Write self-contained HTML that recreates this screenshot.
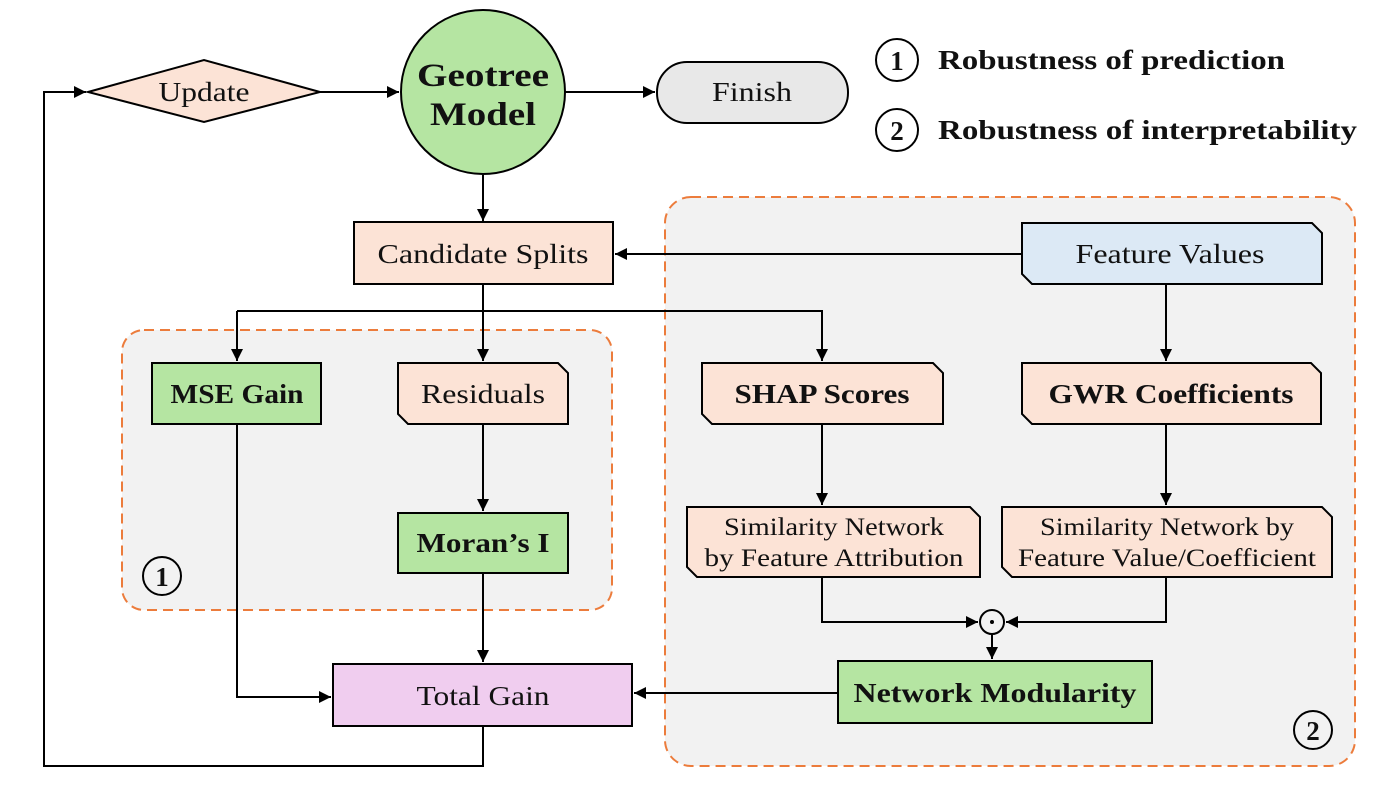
<!DOCTYPE html>
<html><head><meta charset="utf-8"><style>
html,body{margin:0;padding:0;background:#fff}
svg{display:block}
text{font-family:"Liberation Serif","DejaVu Serif",serif;fill:#111}
</style></head><body>
<svg width="1400" height="788" viewBox="0 0 1400 788" xmlns="http://www.w3.org/2000/svg">
<defs>
<marker id="a" viewBox="0 0 10 10" refX="10" refY="5" markerWidth="12" markerHeight="12" markerUnits="userSpaceOnUse" orient="auto"><path d="M0,0L10,5L0,10z" fill="#000"/></marker>
</defs>
<rect x="665" y="197" width="690" height="569" rx="26" fill="#f2f2f2" stroke="#ec7c3c" stroke-width="2" stroke-dasharray="10,6"/>
<rect x="122" y="330" width="490" height="280" rx="22" fill="#f2f2f2" stroke="#ec7c3c" stroke-width="2" stroke-dasharray="10,6"/>

<g stroke="#000" stroke-width="2" fill="none">
<path d="M483,726V766H44V92H86" marker-end="url(#a)"/>
<path d="M320,92H399" marker-end="url(#a)"/>
<path d="M565,92H655" marker-end="url(#a)"/>
<path d="M483,175V221" marker-end="url(#a)"/>
<path d="M1022,254H615" marker-end="url(#a)"/>
<path d="M483,284V361" marker-end="url(#a)"/>
<path d="M237,311H822V361" marker-end="url(#a)"/>
<path d="M237,311V361" marker-end="url(#a)"/>
<path d="M1166,284V361" marker-end="url(#a)"/>
<path d="M822,424V505" marker-end="url(#a)"/>
<path d="M1166,424V505" marker-end="url(#a)"/>
<path d="M483,424V511" marker-end="url(#a)"/>
<path d="M483,573V662" marker-end="url(#a)"/>
<path d="M237,424V697H331" marker-end="url(#a)"/>
<path d="M822,577V622H978" marker-end="url(#a)"/>
<path d="M1166,577V622H1006" marker-end="url(#a)"/>
<path d="M992,634V659" marker-end="url(#a)"/>
<path d="M838,693H634" marker-end="url(#a)"/>
</g>

<g stroke="#000" stroke-width="2">
<polygon points="88,92 204,60 320,92 204,122" fill="#fce3d6"/>
<circle cx="483" cy="92" r="82" fill="#b5e5a2"/>
<rect x="657" y="62" width="191" height="61" rx="30" fill="#e8e8e8"/>
<rect x="354" y="222" width="259" height="62" fill="#fce3d6"/>
<polygon points="1022,223 1312,223 1322,233 1322,284 1032,284 1022,274" fill="#dce9f5"/>
<rect x="152" y="363" width="169" height="61" fill="#b5e5a2"/>
<polygon points="398,363 558,363 568,373 568,424 408,424 398,414" fill="#fce3d6"/>
<polygon points="702,363 933,363 943,373 943,424 712,424 702,414" fill="#fce3d6"/>
<polygon points="1022,363 1311,363 1321,373 1321,424 1032,424 1022,414" fill="#fce3d6"/>
<rect x="398" y="513" width="170" height="60" fill="#b5e5a2"/>
<polygon points="687,507 970,507 980,517 980,577 697,577 687,567" fill="#fce3d6"/>
<polygon points="1002,507 1322,507 1332,517 1332,577 1012,577 1002,567" fill="#fce3d6"/>
<rect x="838" y="661" width="314" height="62" fill="#b5e5a2"/>
<rect x="333" y="664" width="299" height="62" fill="#f0cdef"/>
<circle cx="992" cy="622" r="12" fill="none"/>
<circle cx="897" cy="60" r="21" fill="#fff"/>
<circle cx="897" cy="130" r="21" fill="#fff"/>
<circle cx="162" cy="576" r="19" fill="none"/>
<circle cx="1313" cy="730" r="19" fill="none"/>
</g>
<circle cx="992" cy="622" r="2" fill="#000"/>

<g font-size="27" text-anchor="middle" lengthAdjust="spacingAndGlyphs">
<text x="204" y="101" textLength="91" lengthAdjust="spacingAndGlyphs">Update</text>
<text x="483" y="86" font-weight="bold" font-size="33" textLength="132" lengthAdjust="spacingAndGlyphs">Geotree</text>
<text x="483" y="125" font-weight="bold" font-size="33" textLength="106" lengthAdjust="spacingAndGlyphs">Model</text>
<text x="752" y="101" textLength="80" lengthAdjust="spacingAndGlyphs">Finish</text>
<text x="483" y="263" textLength="211" lengthAdjust="spacingAndGlyphs">Candidate Splits</text>
<text x="1170" y="263" textLength="189" lengthAdjust="spacingAndGlyphs">Feature Values</text>
<text x="237" y="403" font-weight="bold" textLength="133" lengthAdjust="spacingAndGlyphs">MSE Gain</text>
<text x="483" y="403" textLength="124" lengthAdjust="spacingAndGlyphs">Residuals</text>
<text x="822" y="403" font-weight="bold" textLength="175" lengthAdjust="spacingAndGlyphs">SHAP Scores</text>
<text x="1171" y="403" font-weight="bold" textLength="245" lengthAdjust="spacingAndGlyphs">GWR Coefficients</text>
<text x="483" y="552" font-weight="bold" textLength="133" lengthAdjust="spacingAndGlyphs">Moran’s I</text>
<text x="834" y="535" font-size="25" textLength="220" lengthAdjust="spacingAndGlyphs">Similarity Network</text>
<text x="834" y="566" font-size="25" textLength="259" lengthAdjust="spacingAndGlyphs">by Feature Attribution</text>
<text x="1167" y="535" font-size="25" textLength="254" lengthAdjust="spacingAndGlyphs">Similarity Network by</text>
<text x="1167" y="566" font-size="25" textLength="298" lengthAdjust="spacingAndGlyphs">Feature Value/Coefficient</text>
<text x="995" y="702" font-weight="bold" textLength="283" lengthAdjust="spacingAndGlyphs">Network Modularity</text>
<text x="483" y="705" textLength="133" lengthAdjust="spacingAndGlyphs">Total Gain</text>
<text x="897" y="70" font-weight="bold">1</text>
<text x="897" y="140" font-weight="bold">2</text>
<text x="162" y="586" font-weight="bold">1</text>
<text x="1313" y="740" font-weight="bold">2</text>
</g>
<g font-size="27" font-weight="bold">
<text x="938" y="69" textLength="347" lengthAdjust="spacingAndGlyphs">Robustness of prediction</text>
<text x="938" y="139" textLength="419" lengthAdjust="spacingAndGlyphs">Robustness of interpretability</text>
</g>
</svg>
</body></html>
